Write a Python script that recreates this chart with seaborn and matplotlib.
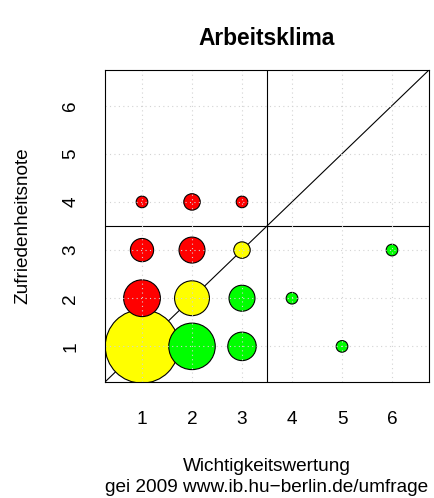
import matplotlib
matplotlib.use("Agg")
import matplotlib.pyplot as plt
import seaborn as sns
import pandas as pd

# Survey answers: importance rank vs. satisfaction grade, with answer counts
wichtigkeit = [1, 2, 3, 5, 1, 2, 3, 4, 1, 2, 3, 6, 1, 2, 3]
zufriedenheit = [1, 1, 1, 1, 2, 2, 2, 2, 3, 3, 3, 3, 4, 4, 4]
anzahl = [40, 16, 6, 1, 10, 9, 5, 1, 4, 5, 2, 1, 1, 2, 1]
ticks = [1, 2, 3, 4, 5, 6]

df = pd.DataFrame({"w": wichtigkeit, "z": zufriedenheit, "n": anzahl})
df["status"] = ["schlecht" if z > w else ("neutral" if z == w else "gut")
                for w, z in zip(df["w"], df["z"])]
farben = {"schlecht": "#FF0000", "neutral": "#FFFF00", "gut": "#00FF00"}

sns.set_style("white")
plt.rcParams["font.family"] = ["Liberation Sans", "DejaVu Sans"]
plt.rcParams["font.size"] = 13.7
plt.rcParams["text.color"] = "black"

W, H = 434, 498
fig = plt.figure(figsize=(W / 100, H / 100), dpi=100)
ax = fig.add_axes([105 / W, 1 - 382 / H, 324 / W, 312 / H])

lim = (0.26, 6.74)
ax.set_xlim(lim)
ax.set_ylim(lim)

# reference lines: diagonal and the two quadrant separators
ax.plot(lim, lim, color="black", lw=0.8, zorder=1)
ax.axvline(3.5, color="black", lw=0.8, zorder=1)
ax.axhline(3.5, color="black", lw=0.8, zorder=1)

c = 70.0
sns.scatterplot(data=df, x="w", y="z", hue="status", palette=farben,
                size="n", sizes=(c * 1, c * 40), size_norm=(1, 40),
                edgecolor="black", linewidth=0.8, alpha=1,
                legend=False, ax=ax, zorder=2)

ax.set_xticks(ticks)
ax.set_yticks(ticks)
ax.set_xticklabels([str(t) for t in ticks])
ax.set_yticklabels([str(t) for t in ticks], rotation=90, va="center")
ax.tick_params(axis="both", direction="out", length=8, width=0.8,
               color="black", labelsize=13.7, labelcolor="black")
ax.tick_params(axis="x", pad=13)
ax.tick_params(axis="y", pad=10.5)
ax.grid(True, color="#D3D3D3", linestyle=(0, (1, 3)), lw=0.8, zorder=3)
ax.set_axisbelow(False)
for s in ax.spines.values():
    s.set_color("black")
    s.set_linewidth(0.8)
    s.set_zorder(4)

ax.set_xlabel("")
ax.set_ylabel("")
fig.text(23 / W, 1 - 226 / H, "Zufriedenheitsnote", rotation=90,
         ha="center", va="center", fontsize=13.7, color="black")
fig.text(267 / W, 1 - 471 / H, "Wichtigkeitswertung", ha="center",
         va="baseline", fontsize=13.7, color="black")
fig.text(267 / W, 1 - 492 / H, "gei 2009 www.ib.hu\u2212berlin.de/umfrage",
         ha="center", va="baseline", fontsize=13.7, color="black")
fig.text(267 / W, 1 - 45 / H, "Arbeitsklima", ha="center", va="baseline",
         fontsize=16.4, fontweight="bold", color="black")

fig.savefig("out.png", dpi=100, facecolor="white")
